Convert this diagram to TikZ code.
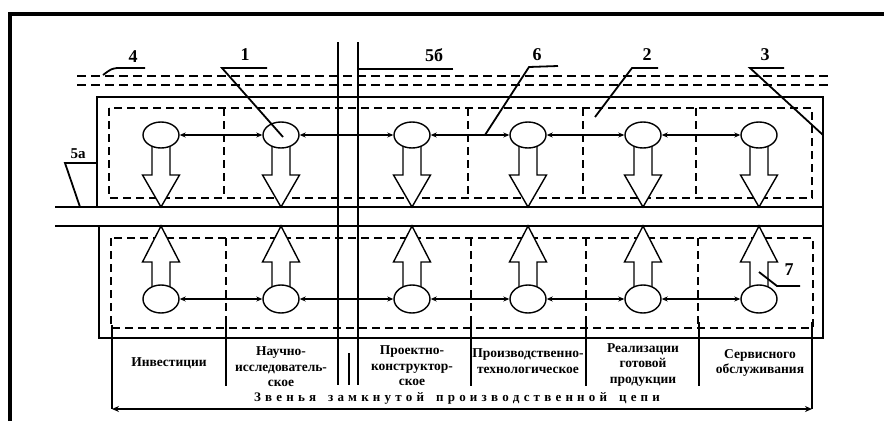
\documentclass[tikz,border=0pt]{standalone}
\usepackage{fontspec}
\setmainfont{Liberation Serif}
\usetikzlibrary{shapes.geometric,arrows.meta}
\newcommand\lsp{\hspace{4.2pt}}
\newcommand\wsp{\hspace{12pt}}
\begin{document}
\begin{tikzpicture}[x=1pt,y=-1pt,
  bubble/.style={ellipse,draw,line width=1.4pt,fill=white,minimum width=36pt,minimum height=26pt,inner sep=0pt},
  link/.style={line width=1.6pt,{Stealth[length=6pt,width=5pt]}-{Stealth[length=6pt,width=5pt]}},
  dashbox/.style={line width=1.4pt,dash pattern=on 8pt off 5pt},
  topdash/.style={line width=1.6pt,dash pattern=on 9pt off 5pt},
  solidbox/.style={line width=1.1pt},
  leader/.style={line width=1.8pt},
  bracket/.style={line width=2.6pt},
  divider/.style={line width=1.8pt},
  num/.style={font=\fontsize{18}{18}\selectfont\bfseries,inner sep=0pt},
  coltext/.style={font=\fontsize{13.5}{15.5}\selectfont\bfseries,align=center,inner sep=0pt},
  blockarrow/.style={line width=1.4pt,fill=white,line join=miter}
]
\useasboundingbox (0,0) rectangle (884,421);
% outer frame (top and left)
\draw[line width=4pt] (10,421) -- (10,14) -- (884,14);
% double dashed line 4
\draw[topdash] (77,76) -- (830,76);
\draw[topdash] (77,85) -- (830,85);
% dashed boxes
\draw[dashbox] (109,108) rectangle (812,198);
\draw[dashbox] (111,238) rectangle (813,328);
\foreach \x in {224,468,583,696} \draw[dashbox] (\x,108) -- (\x,198);
\foreach \x in {226,471,586,698} \draw[dashbox] (\x,238) -- (\x,328);
% solid boxes and bus
\draw[solidbox] (97,207) -- (97,97) -- (823,97) -- (823,338) -- (99,338) -- (99,226);
\draw[solidbox] (55,207) -- (823,207);
\draw[solidbox] (55,226) -- (823,226);
% double vertical lines
\draw[line width=1.5pt] (338,42) -- (338,385);
\draw[line width=1.5pt] (358,42) -- (358,385);
\draw[line width=1.5pt] (349,353) -- (349,385);
% block arrows and bubbles
\foreach \i/\x in {1/161,2/281,3/412,4/528,5/643,6/759} {
  \draw[blockarrow] (\x-9,140) -- (\x-9,175) -- (\x-18.5,175) -- (\x,207) -- (\x+18.5,175) -- (\x+9,175) -- (\x+9,140);
  \draw[blockarrow] (\x-9,292) -- (\x-9,262) -- (\x-18.5,262) -- (\x,226) -- (\x+18.5,262) -- (\x+9,262) -- (\x+9,292);
  \node[bubble] (u\i) at (\x,135) {};
  \node[bubble,minimum height=28pt] (l\i) at (\x,299) {};
}
% links
\draw[link] (u1) -- (u2);
\draw[link] (u2) -- (u3);
\draw[link] (u3) -- (u4);
\draw[link] (u4) -- (u5);
\draw[link] (u5) -- (u6);
\draw[link] (l1) -- (l2);
\draw[link] (l2) -- (l3);
\draw[link] (l3) -- (l4);
\draw[link] (l4) -- (l5);
\draw[link] (l5) -- (l6);
% bottom bracket
\coordinate (bl) at (112,409);
\coordinate (br) at (812,409);
\coordinate (blt) at (112,325);
\coordinate (brt) at (812,322);
\draw[bracket] (blt) -- (bl);
\draw[bracket] (brt) -- (br);
\draw[bracket,{Stealth[length=7pt,width=6pt]}-{Stealth[length=7pt,width=6pt]}] (bl) -- (br);
\foreach \x in {226,471,586,699} \draw[divider] (\x,322) -- (\x,386);
% column texts
\node[coltext] (t1) at (169,363) {Инвестиции};
\node[coltext] (t2) at (281,367) {Научно-\\исследователь-\\ское};
\node[coltext] (t3) at (412,366) {Проектно-\\конструктор-\\ское};
\node[coltext] (t4) at (528,361) {Производственно-\\технологическое};
\node[coltext] (t5) at (643,365) {Реализации\\готовой\\продукции};
\node[coltext] (t6) at (760,363) {Сервисного\\обслуживания};
\node[coltext,font=\fontsize{13}{15}\selectfont\bfseries] (t7) at (457,398) {З\lsp в\lsp е\lsp н\lsp ь\lsp я\wsp з\lsp а\lsp м\lsp к\lsp н\lsp у\lsp т\lsp о\lsp й\wsp п\lsp р\lsp о\lsp и\lsp з\lsp в\lsp о\lsp д\lsp с\lsp т\lsp в\lsp е\lsp н\lsp н\lsp о\lsp й\wsp ц\lsp е\lsp п\lsp и};
% number labels and leaders
\node[num] (n4) at (133,57) {4};
\draw[leader] (145,68) -- (117,68) .. controls (111,69) .. (103,75);
\node[num] (n1) at (245,55) {1};
\draw[leader] (267,68) -- (222,68) -- (283,137);
\node[num] (n5b) at (434,55) {5б};
\draw[line width=1.2pt] (453,69) -- (358,69);
\draw[leader] (453,69) -- (420,69);
\node[num] (n6) at (537,55) {6};
\draw[leader] (558,66) -- (529,67) -- (485,135);
\node[num] (n2) at (647,55) {2};
\draw[leader] (658,68) -- (632,68) -- (595,117);
\node[num] (n3) at (765,55) {3};
\draw[leader] (784,68) -- (750,68) -- (823,135);
\node[num,font=\fontsize{15}{15}\selectfont\bfseries] (n5a) at (78,154) {5а};
\draw[leader] (97,163) -- (65,163) -- (80,207);
\node[num] (n7) at (789,270) {7};
\draw[leader] (759,272) -- (777,286) -- (800,286);
\end{tikzpicture}
\end{document}
